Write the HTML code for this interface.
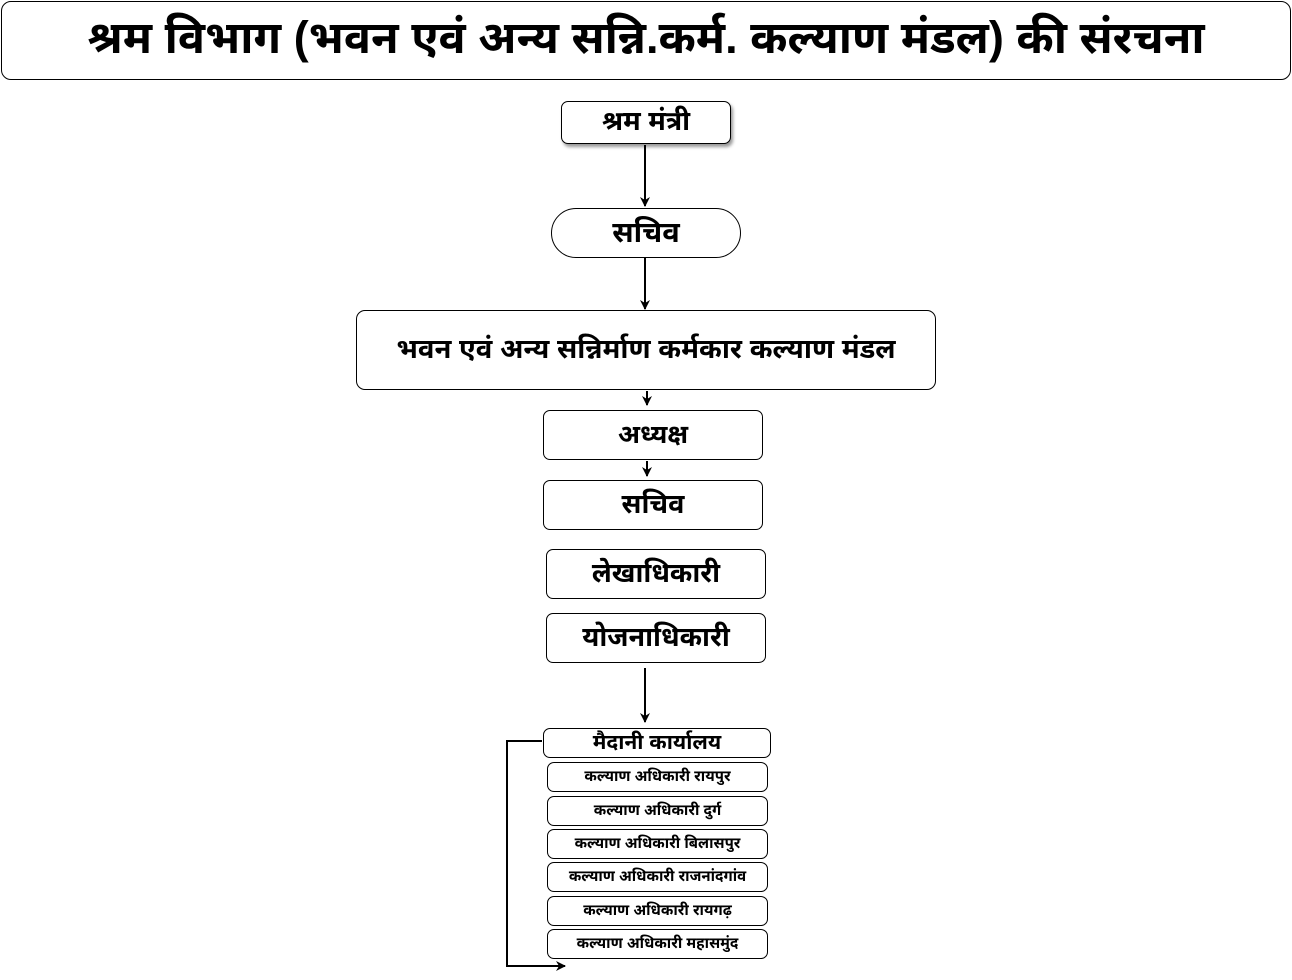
<!DOCTYPE html>
<html><head><meta charset="utf-8"><style>
body{margin:0;width:1292px;height:980px;background:#fff;position:relative;overflow:hidden;font-family:"Liberation Sans","Noto Sans Devanagari","Lohit Devanagari","Mangal",sans-serif;font-weight:bold;color:#000}
.b{position:absolute;box-sizing:border-box;border:1px solid #000;border-radius:7px;background:#fff;display:flex;align-items:center;justify-content:center;white-space:nowrap;padding-top:3px}
.s{padding-top:2px}
svg{position:absolute;left:0;top:0}
</style></head><body>
<div class="b" style="left:1px;top:1px;width:1290px;height:79px;border-radius:10px;font-size:45px">श्रम विभाग (भवन एवं अन्य सन्नि.कर्म. कल्याण मंडल) की संरचना</div>
<div class="b" style="left:561px;top:101px;width:170px;height:43px;font-size:27px;box-shadow:2px 3px 3px #999">श्रम मंत्री</div>
<div class="b" style="left:551px;top:208px;width:190px;height:50px;border-radius:25px;font-size:29px">सचिव</div>
<div class="b" style="left:356px;top:310px;width:580px;height:80px;border-radius:9px;font-size:27.5px">भवन एवं अन्य सन्निर्माण कर्मकार कल्याण मंडल</div>
<div class="b" style="left:543px;top:410px;width:220px;height:50px;font-size:26px">अध्यक्ष</div>
<div class="b" style="left:543px;top:480px;width:220px;height:50px;font-size:27px">सचिव</div>
<div class="b" style="left:546px;top:549px;width:220px;height:50px;font-size:27px">लेखाधिकारी</div>
<div class="b" style="left:546px;top:613px;width:220px;height:50px;font-size:27px">योजनाधिकारी</div>
<div class="b s" style="left:543px;top:728px;width:228px;height:30px;font-size:21px">मैदानी कार्यालय</div>
<div class="b s" style="left:547px;top:762px;width:221px;height:30px;font-size:15px">कल्याण अधिकारी रायपुर</div>
<div class="b s" style="left:547px;top:796px;width:221px;height:30px;font-size:15px">कल्याण अधिकारी दुर्ग</div>
<div class="b s" style="left:547px;top:829px;width:221px;height:30px;font-size:15px">कल्याण अधिकारी बिलासपुर</div>
<div class="b s" style="left:547px;top:862px;width:221px;height:30px;font-size:15px">कल्याण अधिकारी राजनांदगांव</div>
<div class="b s" style="left:547px;top:896px;width:221px;height:30px;font-size:15px">कल्याण अधिकारी रायगढ़</div>
<div class="b s" style="left:547px;top:929px;width:221px;height:30px;font-size:15px">कल्याण अधिकारी महासमुंद</div>
<svg width="1292" height="980">
<defs><marker id="a" markerWidth="10" markerHeight="10" refX="9" refY="5" orient="auto" markerUnits="userSpaceOnUse"><path d="M0,0 L10,5 L0,10 L3,5 z" fill="#000"/></marker></defs>
<g stroke="#000" stroke-width="2" fill="none">
<line x1="645" y1="145" x2="645" y2="206" marker-end="url(#a)"/>
<line x1="645" y1="258" x2="645" y2="309" marker-end="url(#a)"/>
<line x1="647" y1="391" x2="647" y2="405" marker-end="url(#a)"/>
<line x1="647" y1="461" x2="647" y2="476" marker-end="url(#a)"/>
<line x1="645" y1="668" x2="645" y2="722" marker-end="url(#a)"/>
<polyline points="542,741 507,741 507,966 565,966" marker-end="url(#a)"/>
</g></svg>
</body></html>
